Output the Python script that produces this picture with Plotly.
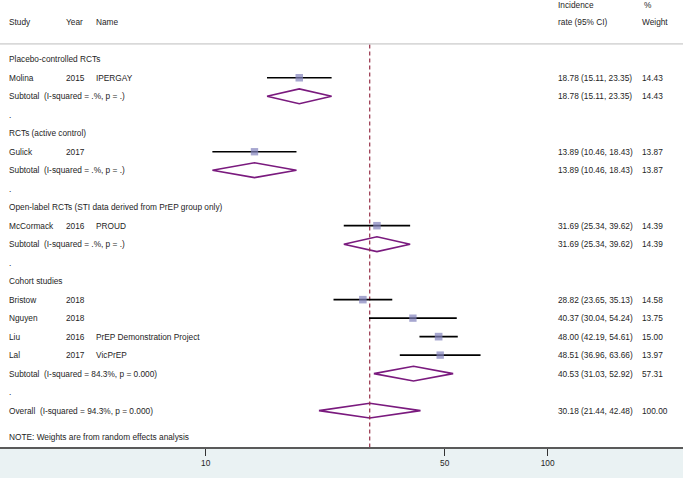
import plotly.graph_objects as go

# study level data
studies = ["Molina", "Gulick", "McCormack", "Bristow", "Nguyen", "Liu", "Lal"]
years = ["2015", "2017", "2016", "2018", "2018", "2016", "2017"]
names = ["IPERGAY", "", "PROUD", "", "", "PrEP Demonstration Project", "VicPrEP"]
study_group = [0, 1, 2, 3, 3, 3, 3]
est = [18.78, 13.89, 31.69, 28.82, 40.37, 48.00, 48.51]
lo = [15.11, 10.46, 25.34, 23.65, 30.04, 42.19, 36.96]
hi = [23.35, 18.43, 39.62, 35.13, 54.24, 54.61, 63.66]
weight = [14.43, 13.87, 14.39, 14.58, 13.75, 15.00, 13.97]

# subgroup data
groups = ["Placebo-controlled RCTs", "RCTs (active control)",
          "Open-label RCTs (STI data derived from PrEP group only)", "Cohort studies"]
sub_est = [18.78, 13.89, 31.69, 40.53]
sub_lo = [15.11, 10.46, 25.34, 31.03]
sub_hi = [23.35, 18.43, 39.62, 52.92]
sub_weight = [14.43, 13.87, 14.39, 57.31]
sub_het = [".%, p = .", ".%, p = .", ".%, p = .", "84.3%, p = 0.000"]

# overall
ov_est, ov_lo, ov_hi, ov_weight = 30.18, 21.44, 42.48, 100.00
ov_het = "94.3%, p = 0.000"

tick_vals = [10, 50, 100]
tick_text = ["10", "50", "100"]

W, H = 683, 478
FONT = "Liberation Sans, Arial, sans-serif"
FS = 8.3
TXT = "#1e1e1e"
NB = "\u00a0"

X_STUDY, X_YEAR, X_NAME, X_CI, X_WT = 7, 64, 94, 556, 640

fig = go.Figure()
ann = []


def label(xpx, y, text):
    ann.append(dict(x=xpx / W, xref="paper", y=y, yref="y", text=text,
                    xanchor="left", yanchor="middle", showarrow=False,
                    font=dict(family=FONT, size=FS, color=TXT)))


def diamond(e, l, h, y):
    fig.add_trace(go.Scatter(x=[l, e, h, e, l], y=[y, y - 0.4, y, y + 0.4, y],
                             mode="lines", line=dict(color="#7a1a7e", width=1.6),
                             hoverinfo="skip", showlegend=False))


# header
label(X_STUDY, 0, "Study")
label(X_YEAR, 0, "Year")
label(X_NAME, 0, "Name")
label(X_CI, -0.96, "Incidence")
label(X_CI, 0, "rate (95% CI)")
label(X_WT + 2, -0.96, "%")
label(X_WT, 0, "Weight")

# build rows
row = 2
study_rows = []
for g, gname in enumerate(groups):
    label(X_STUDY, row, gname)
    row += 1
    for i, s in enumerate(studies):
        if study_group[i] != g:
            continue
        label(X_STUDY, row, s)
        label(X_YEAR, row, years[i])
        if names[i]:
            label(X_NAME, row, names[i])
        label(X_CI, row, f"{est[i]:.2f} ({lo[i]:.2f}, {hi[i]:.2f})")
        label(X_WT, row, f"{weight[i]:.2f}")
        study_rows.append(row)
        row += 1
    label(X_STUDY, row, f"Subtotal{NB}{NB}(I-squared = {sub_het[g]})")
    label(X_CI, row, f"{sub_est[g]:.2f} ({sub_lo[g]:.2f}, {sub_hi[g]:.2f})")
    label(X_WT, row, f"{sub_weight[g]:.2f}")
    diamond(sub_est[g], sub_lo[g], sub_hi[g], row)
    row += 1
    label(X_STUDY, row, ".")
    row += 1

label(X_STUDY, row, f"Overall{NB}{NB}(I-squared = {ov_het})")
label(X_CI, row, f"{ov_est:.2f} ({ov_lo:.2f}, {ov_hi:.2f})")
label(X_WT, row, f"{ov_weight:.2f}")
diamond(ov_est, ov_lo, ov_hi, row)
label(X_STUDY, row + 1.45, "NOTE: Weights are from random effects analysis")

y_top = (0 - 22.3) / 18.49
y_bot = (447 - 22.3) / 18.49

# overall reference line
fig.add_trace(go.Scatter(x=[ov_est, ov_est], y=[1.2, y_bot], mode="lines",
                         line=dict(color="#963048", width=1.2, dash="4px,3px"),
                         hoverinfo="skip", showlegend=False))

# confidence intervals
for i in range(len(studies)):
    fig.add_trace(go.Scatter(x=[lo[i], hi[i]], y=[study_rows[i]] * 2, mode="lines",
                             line=dict(color="black", width=1.7),
                             hoverinfo="skip", showlegend=False))

# weight boxes
fig.add_trace(go.Scatter(
    x=est, y=study_rows, mode="markers",
    marker=dict(symbol="square", color="#8282bc",
                size=[7.5 * (w / 14.4) ** 0.5 for w in weight], line=dict(width=0)),
    hoverinfo="skip", showlegend=False))

# header separator
fig.add_shape(type="line", xref="paper", x0=0, x1=1, yref="y", y0=1.17, y1=1.17,
              line=dict(color="#bdbdbd", width=1))

fig.update_layout(
    width=W, height=H,
    margin=dict(l=0, r=0, t=0, b=31),
    paper_bgcolor="#eaf2f3", plot_bgcolor="white",
    annotations=ann,
    xaxis=dict(type="log", range=[0.3984, 2.3960], showgrid=False, zeroline=False,
               showline=True, linecolor="#5a5a5a", linewidth=2,
               ticks="outside", ticklen=7, tickwidth=1, tickcolor="#333",
               tickvals=tick_vals, ticktext=tick_text,
               tickfont=dict(family=FONT, size=FS, color=TXT)),
    yaxis=dict(range=[y_bot, y_top], visible=False, showgrid=False, zeroline=False),
)

fig.write_html("out.html", config={"displayModeBar": False},
               post_script="document.body.style.margin='0px';")
